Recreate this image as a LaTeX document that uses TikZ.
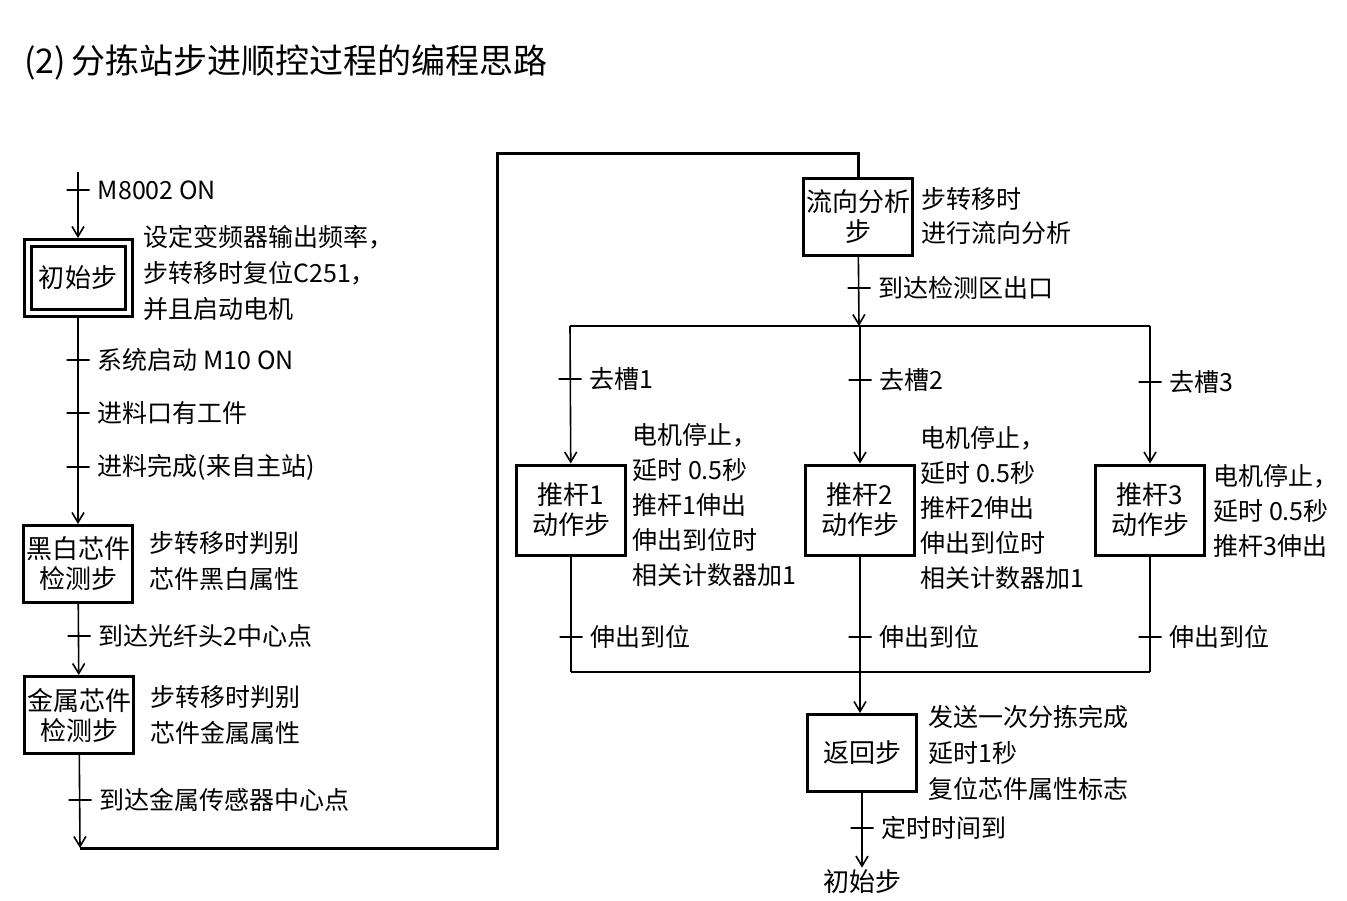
\documentclass[tikz,border=0pt]{standalone}
\usepackage{fontspec}
\setmainfont{Noto Sans CJK SC}
\usetikzlibrary{arrows.meta,positioning}

\begin{document}
\begin{tikzpicture}[x=0.5pt, y=-0.5pt,
    stepbox/.style={draw, line width=1.5pt, minimum width=54.5pt, minimum height=38.5pt,
        inner sep=1pt, align=center, font=\fontsize{13}{15}\selectfont},
    initstep/.style={stepbox, double, double distance=2pt, minimum width=50.5pt,
        minimum height=35pt, outer sep=2.5pt},
    pushstep/.style={stepbox, minimum height=45pt},
    trans/.style={draw, line width=0.8pt, minimum width=11.5pt, minimum height=0pt,
        inner sep=0pt, outer sep=0pt},
    tlabel/.style={font=\fontsize{12.5}{15}\selectfont, inner sep=1pt},
    act/.style={anchor=west, align=left, inner sep=0pt, font=\fontsize{12.5}{18}\selectfont},
    flow/.style={line width=0.8pt, -{Straight Barb[length=5pt,width=6pt]}},
    link/.style={line width=0.8pt},
    loopline/.style={line width=1.5pt}]
    \useasboundingbox (0,0) rectangle (1347,900);
    \node[anchor=west, inner sep=0pt, font=\fontsize{17}{19}\selectfont] (title) at (24,62)
        {(2)\,分拣站步进顺控过程的编程思路};

    % Left column: initial step and detection steps
    \coordinate (start) at (78,172);
    \node[trans, label={[tlabel, label distance=3pt]right:M8002 ON}] (t0) at (78,190) {};
    \node[initstep] (init) at (78,278) {初始步};
    \node[act, font=\fontsize{12.5}{18}\selectfont] (initact) at (143,273)
        {设定变频器输出频率，\\步转移时复位C251，\\并且启动电机};
    \node[trans, label={[tlabel, label distance=3pt]right:系统启动 M10 ON}] (t1) at (78,360) {};
    \node[trans, label={[tlabel, label distance=3pt]right:进料口有工件}] (t2) at (78,413) {};
    \node[trans, label={[tlabel, label distance=3pt]right:进料完成(来自主站)}] (t3) at (78,467) {};
    \node[stepbox] (bw) at (78,564) {黑白芯件\\检测步};
    \node[act] (bwact) at (149,561) {步转移时判别\\芯件黑白属性};
    \node[trans, label={[tlabel, label distance=3pt]right:到达光纤头2中心点}] (t4) at (79,636) {};
    \node[stepbox] (metal) at (79,715) {金属芯件\\检测步};
    \node[act] (metalact) at (150,715) {步转移时判别\\芯件金属属性};
    \node[trans, label={[tlabel, label distance=3pt]right:到达金属传感器中心点}] (t5) at (80,800) {};
    \coordinate (cornerA) at (80,848);
    \coordinate (cornerB) at (497,153);

    \draw[flow] (start) -- (init);
    \draw[flow] (init) -- (bw);
    \draw[flow] (bw) -- (metal);
    \draw[flow] (metal) -- (cornerA);
    \draw[loopline] (cornerA) -| (cornerB) -| (858,178);

    % Flow analysis and branches
    \node[stepbox] (flow) at (858,217) {流向分析\\步};
    \node[act, font=\fontsize{12.5}{17}\selectfont] (flowact) at (921,216) {步转移时\\进行流向分析};
    \node[trans, label={[tlabel, label distance=3pt]right:到达检测区出口}] (t6) at (859,288) {};
    \coordinate (brM) at (859,326);
    \coordinate (brL) at (570,326);
    \coordinate (brR) at (1150,326);
    \draw[flow] (flow) -- (brM);
    \draw[link] (brL) -- (brR);

    \node[pushstep] (p1) at (571,510) {推杆1\\动作步};
    \node[pushstep] (p2) at (860,510) {推杆2\\动作步};
    \node[pushstep] (p3) at (1150,510) {推杆3\\动作步};
    \node[trans, label={[tlabel, label distance=3pt]right:去槽1}] (g1) at (570,379) {};
    \node[trans, label={[tlabel, label distance=3pt]right:去槽2}] (g2) at (860,380) {};
    \node[trans, label={[tlabel, label distance=3pt]right:去槽3}] (g3) at (1150,382) {};
    \draw[flow] (brL) -- (p1);
    \draw[flow] (p2 |- brM) -- (p2);
    \draw[flow] (brR) -- (p3);

    \node[act, font=\fontsize{12.5}{17.5}\selectfont] (p1act) at (632,505)
        {电机停止，\\延时 0.5秒\\推杆1伸出\\伸出到位时\\相关计数器加1};
    \node[act, font=\fontsize{12.5}{17.5}\selectfont] (p2act) at (920,508)
        {电机停止，\\延时 0.5秒\\推杆2伸出\\伸出到位时\\相关计数器加1};
    \node[act, font=\fontsize{12.5}{17.5}\selectfont] (p3act) at (1213,511)
        {电机停止，\\延时 0.5秒\\推杆3伸出};

    % Merge and return step
    \node[trans, label={[tlabel, label distance=3pt]right:伸出到位}] (e1) at (571,637) {};
    \node[trans, label={[tlabel, label distance=3pt]right:伸出到位}] (e2) at (860,637) {};
    \node[trans, label={[tlabel, label distance=3pt]right:伸出到位}] (e3) at (1150,637) {};
    \coordinate (mgL) at (571,672);
    \coordinate (mgR) at (1150,672);
    \draw[link] (p1) -- (mgL);
    \draw[link] (p3) -- (mgR);
    \draw[line width=1.2pt] (mgL) -- (mgR);

    \node[stepbox] (ret) at (862,753) {返回步};
    \node[act] (retact) at (928,753) {发送一次分拣完成\\延时1秒\\复位芯件属性标志};
    \draw[flow] (p2) -- (p2 |- ret.north);
    \node[trans, label={[tlabel, label distance=3pt]right:定时时间到}] (t7) at (862,828) {};
    \node[inner sep=1pt, font=\fontsize{13}{15}\selectfont] (back) at (862,882) {初始步};
    \draw[flow] (ret) -- (back);
\end{tikzpicture}
\end{document}
